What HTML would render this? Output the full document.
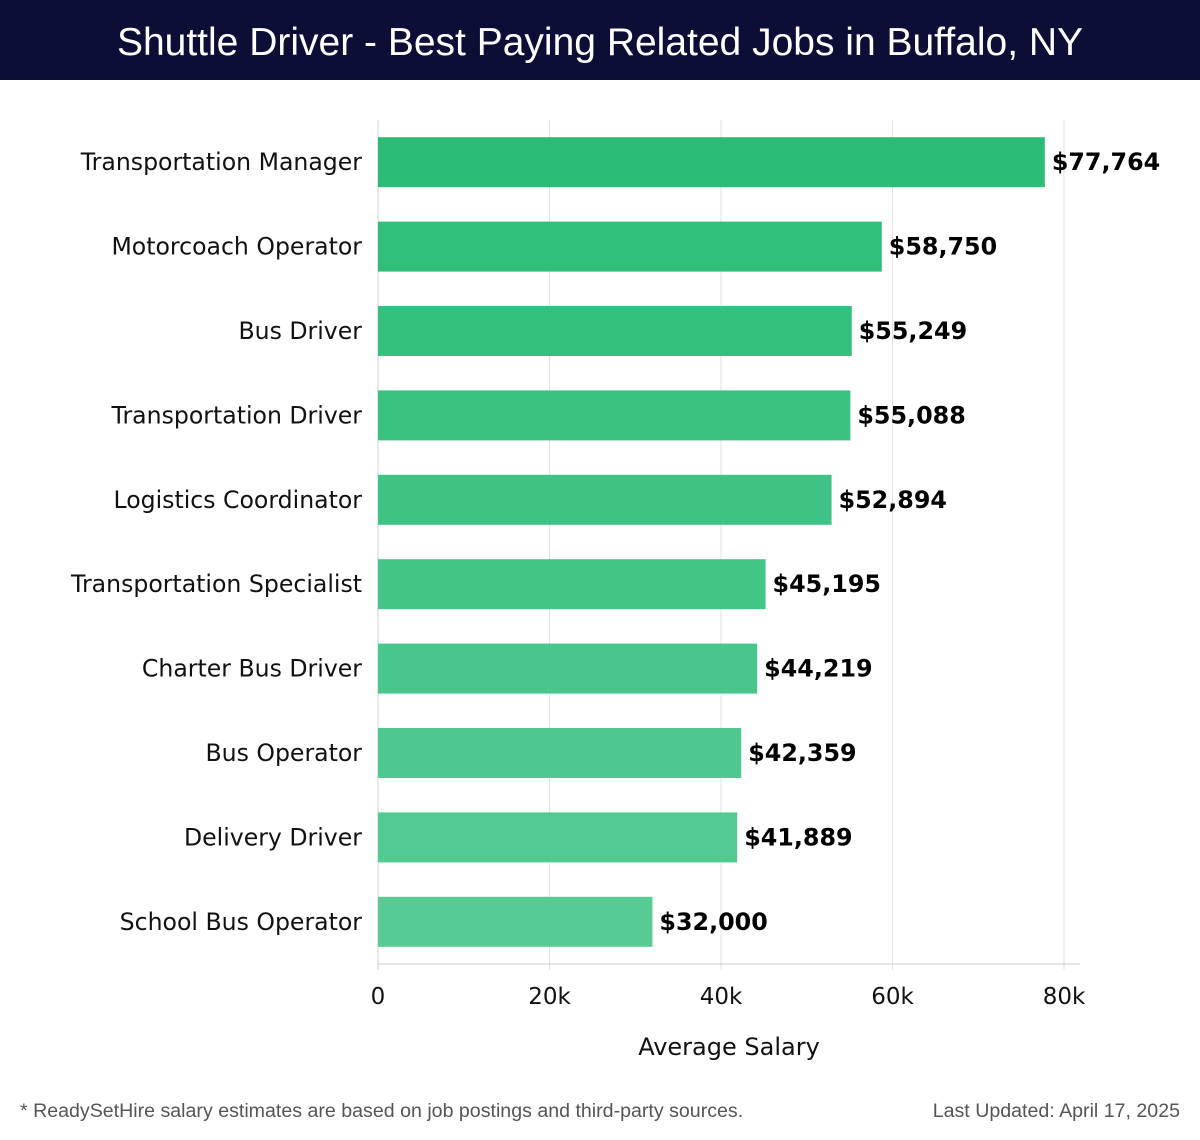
<!DOCTYPE html>
<html><head><meta charset="utf-8"><style>
html,body{margin:0;padding:0;background:#fff;}
body{width:1200px;height:1140px;position:relative;overflow:hidden;font-family:"DejaVu Sans","Liberation Sans",sans-serif;}
#hdr{position:absolute;left:0;top:0;width:1200px;height:80px;background:#0c0e36;color:#fff;text-align:center;line-height:86px;font-size:39px;font-family:"Liberation Sans",sans-serif;}
.foot{position:absolute;top:1100px;font-size:19.6px;color:#555;font-family:"Liberation Sans",sans-serif;}
</style></head><body>
<div id="hdr">Shuttle Driver - Best Paying Related Jobs in Buffalo, NY</div>
<svg id="chart" width="1200" height="1140" style="position:absolute;left:0;top:0"></svg>
<div class="foot" style="left:20px">* ReadySetHire salary estimates are based on job postings and third-party sources.</div>
<div class="foot" style="right:20px">Last Updated: April 17, 2025</div>
<script>
const categories=["Transportation Manager","Motorcoach Operator","Bus Driver","Transportation Driver","Logistics Coordinator","Transportation Specialist","Charter Bus Driver","Bus Operator","Delivery Driver","School Bus Operator"];
const salaries=[77764,58750,55249,55088,52894,45195,44219,42359,41889,32000];
const valueLabels=["$77,764","$58,750","$55,249","$55,088","$52,894","$45,195","$44,219","$42,359","$41,889","$32,000"];
const xTicks=[0,20000,40000,60000,80000];
const xTickLabels=["0","20k","40k","60k","80k"];
const NS="http://www.w3.org/2000/svg";
const svg=document.getElementById('chart');
const X0=378,X1=1064,XMAX=80000,TOP=120,BOT=964;
const x=v=>X0+(v/XMAX)*(X1-X0);
const band=(BOT-TOP)/categories.length;
const y=i=>TOP+band*i+band/2;
function mk(t,a){const e=document.createElementNS(NS,t);for(const k in a)e.setAttribute(k,a[k]);svg.appendChild(e);return e;}
xTicks.forEach((t,i)=>{
 const g=mk('line',{x1:x(t),x2:x(t),y1:TOP,y2:970,stroke:i==0?'#ccc':'#e2e2e2','stroke-width':1});
 
 
 const tx=mk('text',{x:x(t),y:1004,'text-anchor':'middle','font-size':23,fill:'#111'});
 tx.textContent=xTickLabels[i];
 
 
});
const ax=mk('line',{x1:X0,x2:1080,y1:BOT,y2:BOT,stroke:'#ccc','stroke-width':1});


function col(i){const a=[43,189,119],b=[88,203,149];const f=i/(categories.length-1);return 'rgb('+a.map((c,k)=>Math.round(c+(b[k]-c)*f)).join(',')+')';}
categories.forEach((c,i)=>{
 const r=mk('rect',{x:X0,y:y(i)-25,width:x(salaries[i])-X0,height:50,fill:col(i)});
 
 
 const l=mk('text',{x:362,y:y(i)+8,'text-anchor':'end','font-size':23.6,fill:'#111'});
 l.textContent=c;
 
 
 const v=mk('text',{x:x(salaries[i])+7,y:y(i)+8,'font-size':23.8,'font-weight':'bold',fill:'#000'});
 v.textContent=valueLabels[i];
 
 
});
const at=mk('text',{x:729,y:1055,'text-anchor':'middle','font-size':24,fill:'#111'});
at.textContent='Average Salary';


</script>
</body></html>
